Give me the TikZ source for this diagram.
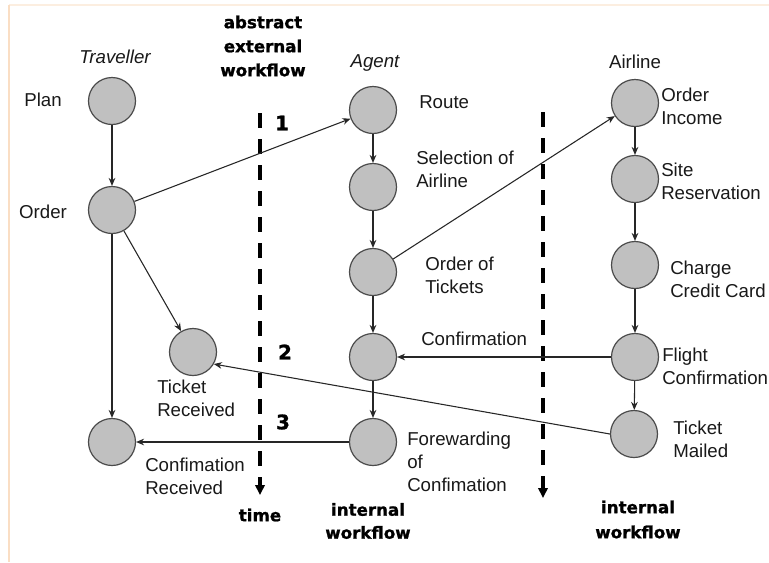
\documentclass[tikz,border=0pt]{standalone}
\usepackage{fontspec}
\setmainfont{Liberation Sans}
\newfontfamily\heavy{DejaVu Sans}[BoldFeatures={FakeBold=1.2}]
\usetikzlibrary{arrows.meta}
\definecolor{cfill}{RGB}{192,192,192}
\definecolor{cline}{RGB}{75,75,75}
\definecolor{frameA}{RGB}{250,222,196}
\definecolor{frameB}{RGB}{252,238,224}
\begin{document}
\begin{tikzpicture}[x=0.75pt,y=-0.75pt,
  st/.style={circle,draw=cline,fill=cfill,line width=0.9pt,minimum size=35.25pt,inner sep=0pt},
  lbl/.style={font=\fontsize{14}{17.25}\selectfont,align=left,anchor=west,inner sep=0pt,text=black!90},
  clbl/.style={font=\fontsize{14}{17.25}\selectfont,inner sep=0pt,text=black!90},
  hv/.style={font=\heavy\bfseries\fontsize{12.5}{18}\selectfont,align=center,inner sep=0pt},
  num/.style={font=\heavy\bfseries\fontsize{15}{17}\selectfont,inner sep=0pt},
  arr/.style={-{Stealth[length=6pt,width=5pt]},line width=0.8pt,draw=black!85},
  tl/.style={line width=3.2pt,dash pattern=on 11.25pt off 8.25pt,draw=black,-{Triangle[length=7.5pt,width=7pt]}}
]
\fill[white] (0,0) rectangle (769,562);
\useasboundingbox (0,0) rectangle (769,562);
\draw[frameB,line width=1.2pt] (9,5) -- (769,5);
\draw[frameA,line width=1.5pt] (9,562) -- (9,5);

% states
\node[st] (plan)  at (112,101) {};
\node[st] (order) at (112,210) {};
\node[st] (tr)    at (193,352) {};
\node[st] (cr)    at (112,442) {};
\node[st] (route) at (373,110) {};
\node[st] (sel)   at (373,187) {};
\node[st] (ot)    at (373,272) {};
\node[st] (conf)  at (373,357) {};
\node[st] (fwd)   at (373,442) {};
\node[st] (oi)    at (635,103) {};
\node[st] (sr)    at (635,179) {};
\node[st] (cc)    at (635,265) {};
\node[st] (fc)    at (635,357) {};
\node[st] (tm)    at (634,434) {};

% timelines
\coordinate (t1s) at (260,113);
\coordinate (t1e) at (260,495);
\coordinate (t2s) at (543,112);
\coordinate (t2e) at (543,498);
\draw[tl] (t1s) -- (t1e);
\draw[tl] (t2s) -- (t2e);

% connectors
\draw[arr] (plan) -- (order);
\draw[arr] (order) -- (route);
\draw[arr] (order) -- (tr);
\draw[arr] (order) -- (cr);
\draw[arr] (route) -- (sel);
\draw[arr] (sel) -- (ot);
\draw[arr] (ot) -- (conf);
\draw[arr] (conf) -- (fwd);
\draw[arr] (ot) -- (oi);
\draw[arr] (oi) -- (sr);
\draw[arr] (sr) -- (cc);
\draw[arr] (cc) -- (fc);
\draw[arr] (fc) -- (tm);
\draw[arr] (fc) -- (conf);
\draw[arr] (tm.west) -- (tr.-30);
\draw[arr] (fwd) -- (cr);

% titles
\node[clbl,font=\itshape\fontsize{14}{17}\selectfont] (ttrav) at (115,57) {Traveller};
\node[clbl,font=\itshape\fontsize{14}{17}\selectfont] (tagent) at (375,63) {Agent};
\node[clbl] (tair) at (635,62) {Airline};

% labels
\node[clbl] (lplan) at (43,100) {Plan};
\node[clbl] (lorder) at (43,212) {Order};
\node[lbl] (lroute) at (419,102) {Route};
\node[lbl] (loi) at (661,106.5) {Order\\Income};
\node[lbl] (lsel) at (416,169) {Selection of\\Airline};
\node[lbl] (lsr) at (661,181) {Site\\Reservation};
\node[lbl] (lot) at (425,275) {Order of\\Tickets};
\node[lbl] (lcc) at (670,279) {Charge\\Credit Card};
\node[lbl] (lconf) at (421,339) {Confirmation};
\node[lbl] (lfc) at (662,366) {Flight\\Confirmation};
\node[lbl] (ltr) at (157,398.5) {Ticket\\Received};
\node[lbl] (ltm) at (673,439.5) {Ticket\\Mailed};
\node[lbl] (lfwd) at (407,462) {Forewarding\\of\\Confimation};
\node[lbl] (lcr) at (145,476) {Confimation\\Received};

% heavy labels
\node[hv] (abs) at (263,46) {abstract\\external\\workflow};
\node[hv] (time) at (260,515) {time};
\node[hv,font=\heavy\bfseries\fontsize{12.5}{17.25}\selectfont] (iw1) at (368,521) {internal\\workflow};
\node[hv,font=\heavy\bfseries\fontsize{12.5}{18.75}\selectfont] (iw2) at (638,519.5) {internal\\workflow};

\node[num] (n1) at (282,123) {1};
\node[num] (n2) at (285,352) {2};
\node[num] (n3) at (283,422) {3};
\end{tikzpicture}
\end{document}
